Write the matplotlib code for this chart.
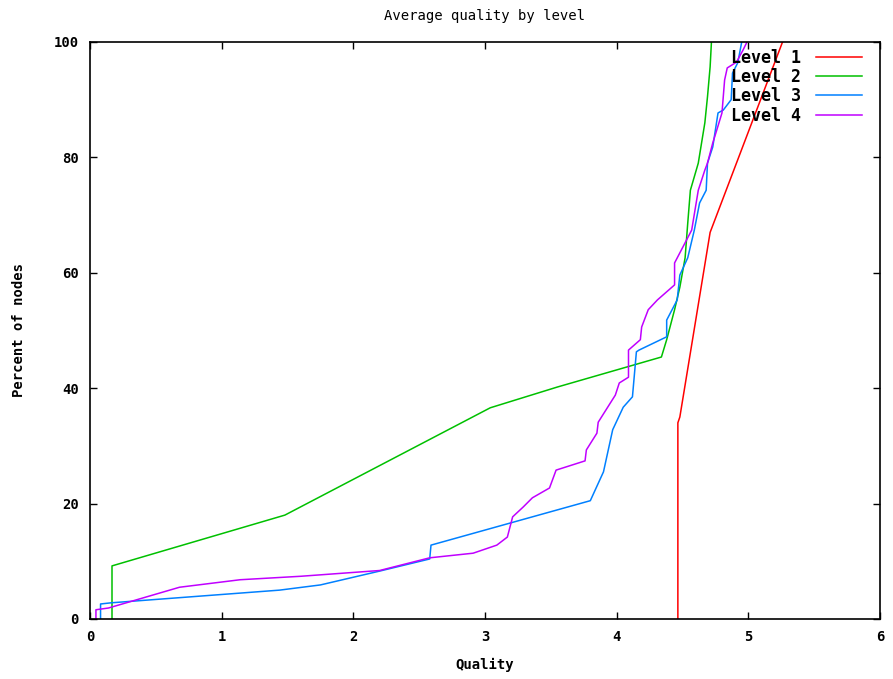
import matplotlib
matplotlib.use("Agg")
import matplotlib.pyplot as plt

# cumulative curves (quality, percent of nodes)
level1_x = [4.465, 4.465, 4.48, 4.71, 5.26]
level1_y = [0, 34, 35, 67, 100]

level2_x = [0.167, 0.167, 1.48, 3.04, 3.55, 4.34, 4.38, 4.44, 4.48, 4.52, 4.54, 4.56,
            4.62, 4.67, 4.69, 4.71, 4.72]
level2_y = [0, 9.2, 18, 36.6, 40.2, 45.4, 48.4, 53.6, 57.5, 62.6, 68.6, 74.3,
            79, 86, 90.5, 95.7, 100]

level3_x = [0.08, 0.08, 0.16, 1.44, 1.75, 2.2, 2.58, 2.59, 3.80, 3.90, 3.97, 4.05,
            4.12, 4.15, 4.17, 4.38, 4.38, 4.46, 4.48, 4.54, 4.59, 4.63, 4.68, 4.69,
            4.73, 4.77, 4.81, 4.87, 4.88, 4.92, 4.95]
level3_y = [0, 2.6, 2.8, 5.0, 5.9, 8.3, 10.4, 12.8, 20.5, 25.5, 32.8, 36.7,
            38.5, 46.3, 46.6, 48.9, 51.8, 55.3, 59.6, 62.6, 67.4, 72.1, 74.3, 79,
            81.8, 87.7, 88.2, 90, 94.6, 96.4, 100]

level4_x = [0.045, 0.045, 0.14, 0.68, 1.14, 1.6, 2.2, 2.58, 2.91, 3.09, 3.17, 3.21,
            3.29, 3.36, 3.49, 3.54, 3.76, 3.77, 3.85, 3.86, 3.99, 4.02, 4.09, 4.09,
            4.18, 4.19, 4.24, 4.31, 4.44, 4.44, 4.52, 4.57, 4.62, 4.67, 4.69, 4.73,
            4.76, 4.80, 4.82, 4.84, 4.91, 4.96, 4.99]
level4_y = [0, 1.6, 1.9, 5.5, 6.8, 7.4, 8.4, 10.6, 11.4, 12.8, 14.2, 17.7,
            19.4, 21, 22.7, 25.8, 27.4, 29.3, 32.2, 34.1, 38.8, 40.9, 41.9, 46.6,
            48.4, 50.6, 53.6, 55.3, 57.9, 61.7, 65.2, 67.4, 74.3, 77.8, 79, 82.5,
            84.7, 87.7, 93.4, 95.5, 96.5, 98.6, 100]

series = [
    ("Level 1", level1_x, level1_y, "#ff0000"),
    ("Level 2", level2_x, level2_y, "#00c000"),
    ("Level 3", level3_x, level3_y, "#0080ff"),
    ("Level 4", level4_x, level4_y, "#c000ff"),
]

plt.rcParams['font.family'] = ['DejaVu Sans Mono']
plt.rcParams['font.weight'] = 'bold'

fig = plt.figure(figsize=(8.93, 6.79), dpi=100)
ax = fig.add_axes([0.1008, 0.0884, 0.8846, 0.8498])

for name, xs, ys, col in series:
    ax.plot(xs, ys, color=col, linewidth=1.1, label=name)

ax.set_xlim(0, 6)
ax.set_ylim(0, 100)
ax.set_xticks(range(0, 7))
ax.set_yticks(range(0, 101, 20))
ax.tick_params(direction='in', top=True, right=True, length=5, width=1,
               labelsize=10, pad=8, colors='black')
for s in ax.spines.values():
    s.set_linewidth(1.2)

ax.set_title("Average quality by level", fontsize=10, pad=16, fontweight='normal')
ax.set_xlabel("Quality", fontsize=10, labelpad=10, fontweight='bold')
ax.set_ylabel("Percent of nodes", fontsize=10, labelpad=20, fontweight='bold')

leg = ax.legend(loc='upper right', bbox_to_anchor=(0.986, 1.0), frameon=False,
                markerfirst=False, handlelength=2.8, handletextpad=0.9,
                labelspacing=0.08, fontsize=12, borderaxespad=0.0)

fig.savefig("out.png", dpi=100)
